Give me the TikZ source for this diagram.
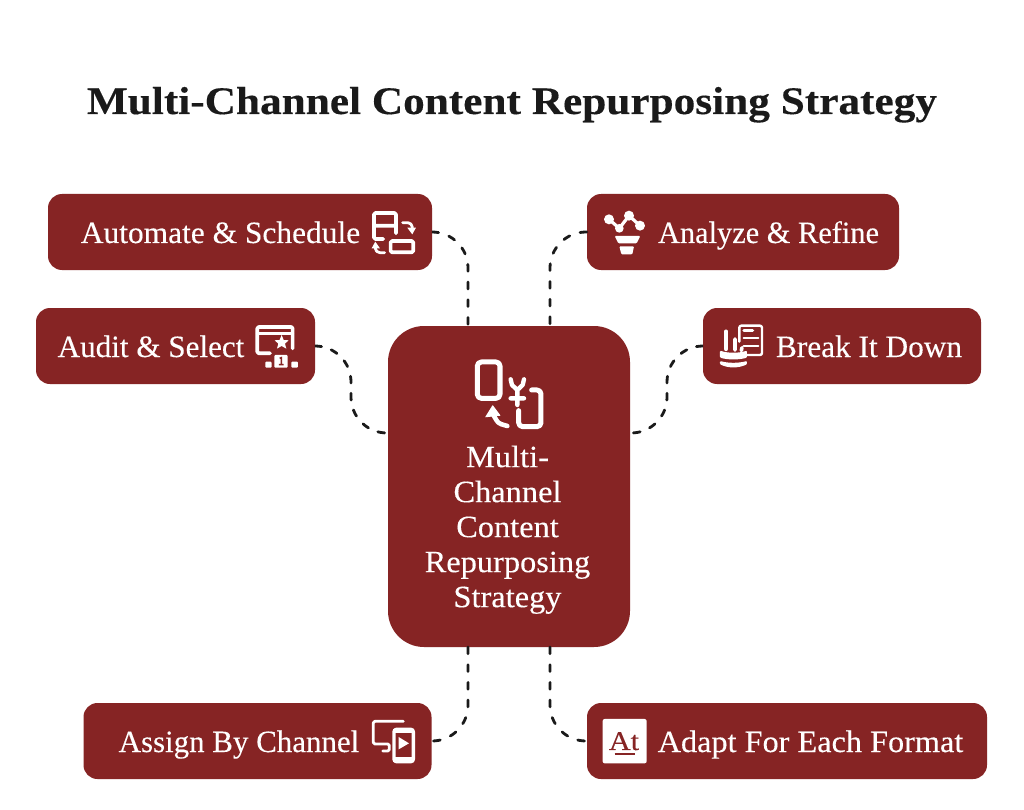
\documentclass[tikz,border=0pt]{standalone}
\usepackage{fontspec}
\setmainfont[FakeBold=0.25]{Liberation Serif}
\definecolor{boxred}{HTML}{862424}
\definecolor{inkline}{HTML}{1A1A1A}
\newcommand{\lab}[2]{\addfontfeature{FakeStretch=#1}#2}
\tikzset{
  boxnode/.style={fill=boxred,text=white,rounded corners=14pt,inner sep=0pt,minimum height=76pt,text height=22pt,text depth=0pt,font=\fontsize{31}{35}\selectfont},
  hub/.style={fill=boxred,text=white,rounded corners=36pt,inner sep=0pt,minimum width=242pt,minimum height=321pt,align=center,font=\fontsize{31}{35}\selectfont\addfontfeature{FakeStretch=1.045}},
  conn/.style={draw=inkline,line width=2.8pt,line cap=round,dash pattern=on 6.8pt off 10.9pt,rounded corners=36pt},
  connS/.style={conn,dash pattern=on 6.8pt off 10.2pt},
  ic/.style={draw=white,line width=3.7pt,line cap=round,line join=round,rounded corners=1.5pt},
  icf/.style={fill=white,rounded corners=1pt},
  zoomA/.style={shift={(30,185)},x=0.3333pt,y=-0.3333pt},
  zoomB/.style={shift={(540,185)},x=0.3333pt,y=-0.3333pt},
  zoomC/.style={shift={(420,340)},x=0.3333pt,y=-0.3333pt},
  zoomD/.style={shift={(340,640)},x=0.3333pt,y=-0.3333pt},
}
\begin{document}
\begin{tikzpicture}[x=1pt,y=-1pt]
\useasboundingbox (0,0) rectangle (1024,810);
\fill[white] (0,0) rectangle (1024,810);
\node[font=\fontsize{39}{44}\selectfont\bfseries,text=inkline,anchor=base] (title) at (512,114) {\lab{1.11}{Multi-Channel Content Repurposing Strategy}};

\node[hub] (hubnode) at (509,486.5) {\rule{0pt}{108pt}Multi-\kern3pt\\Channel\kern3pt\\Content\kern3pt\\Repurposing\kern3pt\\Strategy\kern3pt};
\node[boxnode,minimum width=384pt] (automate) at (240,232) {\lab{1.014}{Automate \& Schedule}\kern39pt};
\node[boxnode,minimum width=279pt] (audit) at (175.5,346) {\lab{1.004}{Audit \& Select}\kern49pt};
\node[boxnode,minimum width=312pt] (analyze) at (743,232) {\kern51pt\lab{0.98}{Analyze \& Refine}};
\node[boxnode,minimum width=278pt] (breakdown) at (842,346) {\kern54pt\lab{1.01}{Break It Down}};
\node[boxnode,minimum width=348pt] (assign) at (257.5,741) {\lab{0.998}{Assign By Channel}\kern37pt};
\node[boxnode,minimum width=400pt] (adapt) at (787,741) {\kern47pt\lab{1.041}{Adapt For Each Format}};

\coordinate (hubTL) at (468,326);
\coordinate (hubTR) at (550,326);
\coordinate (hubBL) at (468,647);
\coordinate (hubBR) at (550,647);
\coordinate (hubWL) at (388,433);
\coordinate (hubWR) at (630,433);
\coordinate (bendL) at (351,346);
\coordinate (bendLb) at (351,433);
\coordinate (bendR) at (667,346);
\coordinate (bendRb) at (667,433);

\draw[conn] (automate.east) -| (hubTL);
\draw[conn] (analyze.west) -| (hubTR);
\draw[conn] (hubBL) |- (assign.east);
\draw[conn] (hubBR) |- (adapt.west);
\draw[connS] (audit.east) -- (bendL) -- (bendLb) -- (hubWL);
\draw[connS] (breakdown.west) -- (bendR) -- (bendRb) -- (hubWR);

% Automate icon
\begin{scope}[zoomA]
\draw[ic] (1032,122) -- (1098,122) (1060,162) -- (1032,162) -- (1032,84) -- (1098,84) -- (1098,145);
\draw[ic] (1082,168) rectangle (1150,202);
\draw[ic,line width=2.8pt] (1118,113) -- (1138,113) -- (1147,122) -- (1147,130);
\fill[white] (1132,128) -- (1158,128) -- (1147,148) -- cycle;
\draw[ic,line width=2.8pt] (1064,203) -- (1045,203) -- (1036,194) -- (1036,188);
\fill[white] (1025,190) -- (1050,190) -- (1036,170) -- cycle;
\end{scope}
% Audit icon
\begin{scope}[zoomA]
\draw[ic] (720,505) -- (682,505) -- (682,426) -- (788,426) -- (788,490);
\draw[ic,line width=3pt] (682,447) -- (788,447);
\fill[boxred] (697,435) circle (3) (710,435) circle (3) (723,435) circle (3);
\fill[white] (755,450) -- (761,465) -- (776,466) -- (765,476) -- (769,491) -- (755,483) -- (741,491) -- (745,476) -- (734,466) -- (749,465) -- cycle;
\fill[white,rounded corners=1pt] (733,510) rectangle (773,548);
\draw[boxred,line width=1.5pt] (749,520) -- (754,518) -- (754,538) (747,539) -- (761,539);
\fill[icf] (706,530) rectangle (725,548);
\fill[icf] (784,530) rectangle (804,548);
\end{scope}
% Analyze icon
\begin{scope}[zoomB]
\draw[ic,line width=3.2pt] (207,103) -- (238,130) -- (267,92) -- (300,122);
\fill[white] (207,103) circle (15) (238,130) circle (13) (267,92) circle (15) (300,122) circle (15);
\fill[icf] (224,153) -- (301,153) -- (290,175) -- (235,175) -- cycle;
\fill[icf] (238,184) -- (282,184) -- (277,208) -- (244,208) -- cycle;
\end{scope}
% Break icon
\begin{scope}[zoomB]
\draw[ic,line width=2.4pt,rounded corners=2pt] (598,470) -- (598,422) -- (666,422) -- (666,510) -- (622,510);
\draw[ic,line width=3.2pt] (612,437) -- (638,437);
\draw[ic,line width=2.2pt] (611,460) -- (655,460) (611,483) -- (655,483);
\draw[ic,line width=4.4pt] (558,440) -- (558,492);
\draw[ic,line width=3.6pt] (585,462) -- (585,495) (606,488) -- (604,497);
\fill[icf] (540,497) .. controls (565,505) and (595,505) .. (621,497) -- (621,518) .. controls (595,525) and (565,525) .. (540,518) -- cycle;
\fill[icf] (540,528) .. controls (565,535) and (595,535) .. (621,528) -- (621,538) .. controls (595,550) and (565,550) .. (540,538) -- cycle;
\end{scope}
% Hub icon
\begin{scope}[zoomC]
\draw[ic,line width=5pt,rounded corners=4pt] (172,66) rectangle (240,175);
\draw[ic,line width=5pt,rounded corners=4pt] (335,150) -- (363,150) -- (363,260) -- (296,260) -- (296,212);
\draw[ic,line width=4.4pt,rounded corners=0.5pt] (272,118) -- (276,135) -- (292,150) -- (308,135) -- (312,118) (292,150) -- (292,195) (272,175) -- (312,175);
\draw[ic,line width=4.6pt,rounded corners=3pt] (262,258) -- (235,250) -- (220,225);
\fill[white,rounded corners=0.5pt] (195,232) -- (218,195) -- (242,227) -- cycle;
\end{scope}
% Assign icon
\begin{scope}[zoomD]
\draw[ic,line width=2.8pt] (190,244) -- (100,244) -- (100,312) -- (148,312) -- (148,333) -- (128,333);
\draw[ic,line width=3.4pt,rounded corners=2.5pt] (162,268) rectangle (220,365);
\fill[white] (160,266) rectangle (222,280);
\fill[white] (160,350) rectangle (222,366);
\fill[white] (176,291) -- (207,310) -- (176,328) -- cycle;
\end{scope}
% Adapt icon
\begin{scope}[zoomD]
\fill[white,rounded corners=2pt] (788,237) rectangle (920,370);
\node[text=boxred,font=\fontsize{27}{27}\selectfont,inner sep=0pt,anchor=base] (atmark) at (852,330) {\lab{1.12}{At}};
\draw[boxred,line width=2pt] (824,342) -- (885,342);
\end{scope}
\end{tikzpicture}
\end{document}
